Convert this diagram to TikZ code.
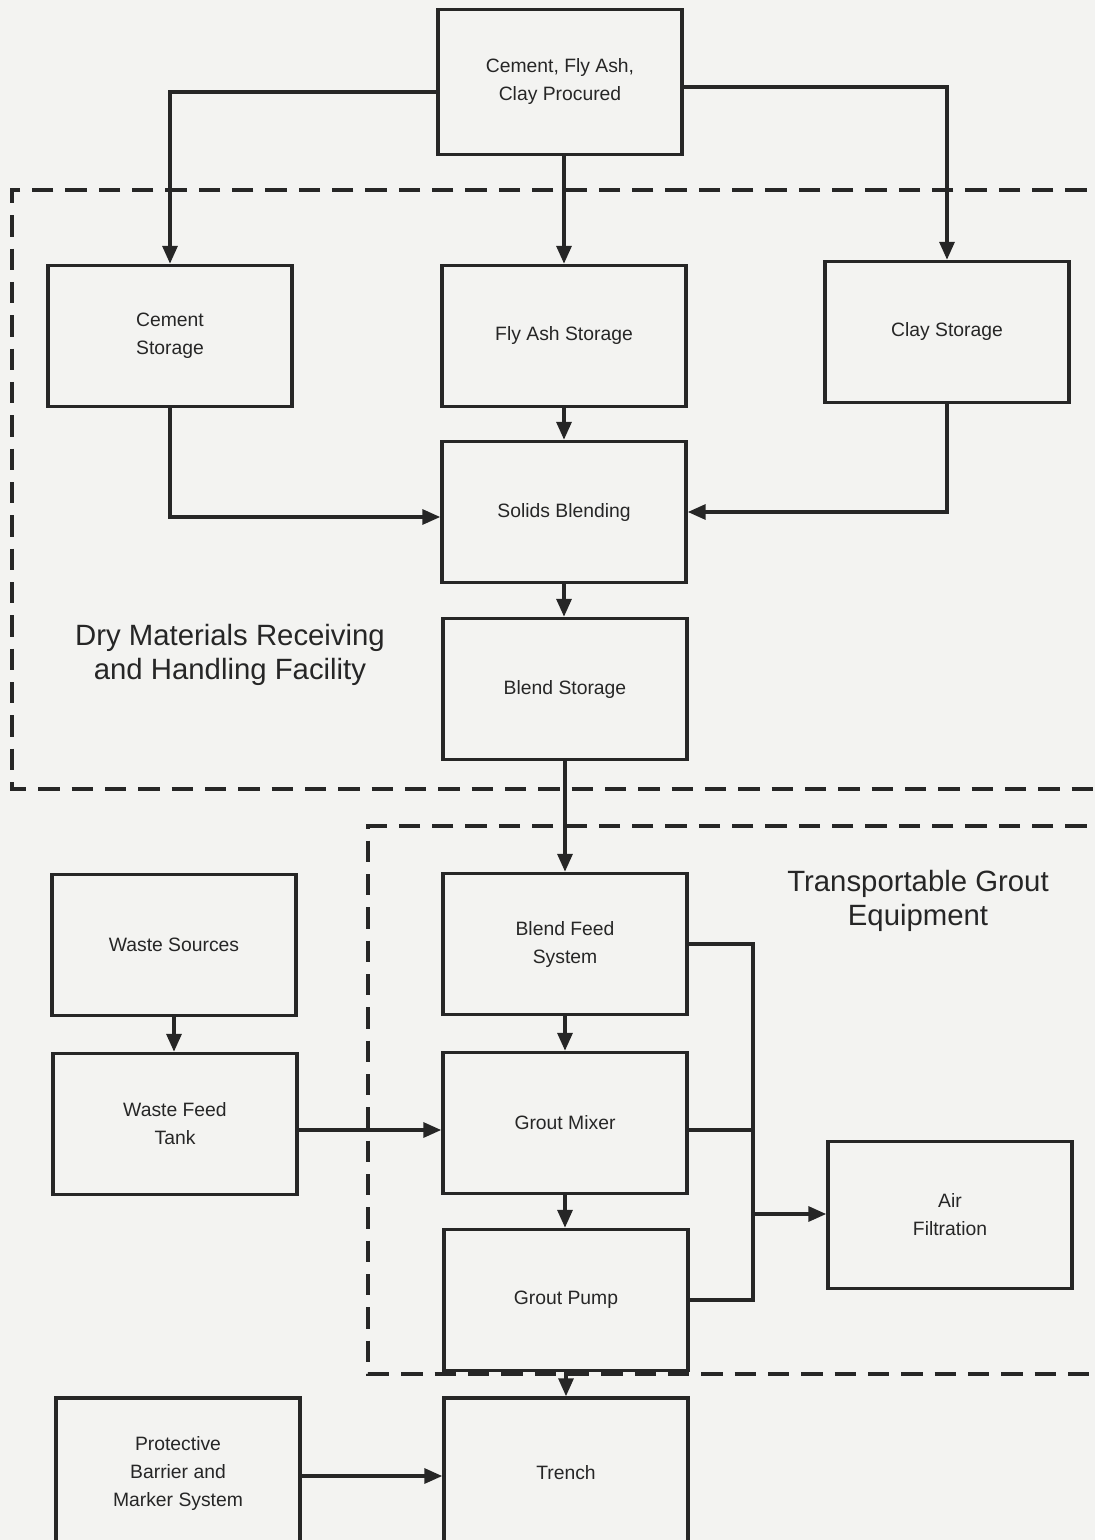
\documentclass[tikz,border=0pt]{standalone}
\usepackage{fontspec}
\setmainfont{Liberation Sans}
\usetikzlibrary{arrows.meta,calc}
\definecolor{paper}{HTML}{F3F3F1}
\definecolor{ink}{HTML}{262626}
\begin{document}
\begin{tikzpicture}[x=0.75pt,y=-0.75pt,
  box/.style={draw=ink, line width=2.4pt, fill=paper, minimum width=183pt,
    minimum height=105.75pt, inner sep=2pt, align=center, text=ink,
    font=\fontsize{14.5}{21}\selectfont},
  conn/.style={draw=ink, line width=2.9pt},
  arr/.style={conn, -{Triangle[length=13.5pt,width=11pt]}},
  region/.style={draw=ink, line width=2.5pt, dash pattern=on 16pt off 9pt},
  caption/.style={text=ink, align=center, font=\fontsize{22}{26}\selectfont}]

% page and frame
\fill[paper] (0,0) rectangle (1095,1540);
\useasboundingbox (0,0) rectangle (1095,1540);
\clip (0,0) rectangle (1095,1540);

% facility boundaries
\draw[region] (1120,190) -- (12,190) -- (12,789) -- (1120,789);
\draw[region] (1120,826) -- (368,826) -- (368,1374) -- (1120,1374);

% process boxes
\node[box, minimum height=108.75pt] (proc) at (560,82) {Cement, Fly Ash,\\Clay Procured};
\node[box] (cst)  at (170,336) {Cement\\Storage};
\node[box] (fst)  at (564,336) {Fly Ash Storage};
\node[box] (clst) at (947,332) {Clay Storage};
\node[box] (sbl)  at (564,512) {Solids Blending};
\node[box] (bst)  at (565,689) {Blend Storage};
\node[box] (bfs)  at (565,944) {Blend Feed\\System};
\node[box] (gmx)  at (565,1123) {Grout Mixer};
\node[box] (gpp)  at (566,1300) {Grout Pump};
\node[box, minimum height=112.5pt] (trn) at (566,1473) {Trench};
\node[box] (wsrc) at (174,945) {Waste Sources};
\node[box] (wft)  at (175,1124) {Waste Feed\\Tank};
\node[box, minimum height=110pt] (air) at (950,1215) {Air\\Filtration};
\node[box, minimum height=112.5pt] (prot) at (178,1473) {Protective\\Barrier and\\Marker System};

% captions
\node[caption] (drycap) at (230,655) {Dry Materials Receiving\\and Handling Facility};
\node[caption] (tgecap) at (918,901) {Transportable Grout\\Equipment};

% connector start points off the box centres
\coordinate (procw) at ($(proc.west)+(0,10)$);
\coordinate (proce) at ($(proc.east)+(0,5)$);
\coordinate (sblw)  at ($(sbl.west)+(0,5)$);
\coordinate (wfte)  at ($(wft.east)+(0,6)$);
\coordinate (gmxe)  at ($(gmx.east)+(0,7)$);
\coordinate (prote) at ($(prot.east)+(0,3)$);
\coordinate (bus) at (753,1214);

% flows from procurement
\draw[arr] (procw) -| (cst.north);
\draw[arr] (proce) -| (clst.north);
\draw[arr] (proc.south -| fst.north) -- (fst.north);

% dry blending
\draw[arr] (fst.south) -- (fst.south |- sbl.north);
\draw[arr] (cst.south) |- (sblw);
\draw[arr] (clst.south) |- (sbl.east);
\draw[arr] (sbl.south) -- (sbl.south |- bst.north);
\draw[arr] (bst.south) -- (bst.south |- bfs.north);

% grouting line
\draw[arr] (wsrc.south) -- (wsrc.south |- wft.north);
\draw[arr] (wfte) -- (wfte -| gmx.west);
\draw[arr] (bfs.south) -- (bfs.south |- gmx.north);
\draw[arr] (gmx.south) -- (gmx.south |- gpp.north);
\draw[arr] (gpp.south) -- (gpp.south |- trn.north);
\draw[arr] (prote) -- (prote -| trn.west);

% air collection header
\draw[conn] (bfs.east) -| (bus);
\draw[conn] (gpp.east) -| (bus);
\draw[conn] (gmxe) -- (gmxe -| bus);
\draw[arr] (bus) -- (bus -| air.west);
\end{tikzpicture}
\end{document}
